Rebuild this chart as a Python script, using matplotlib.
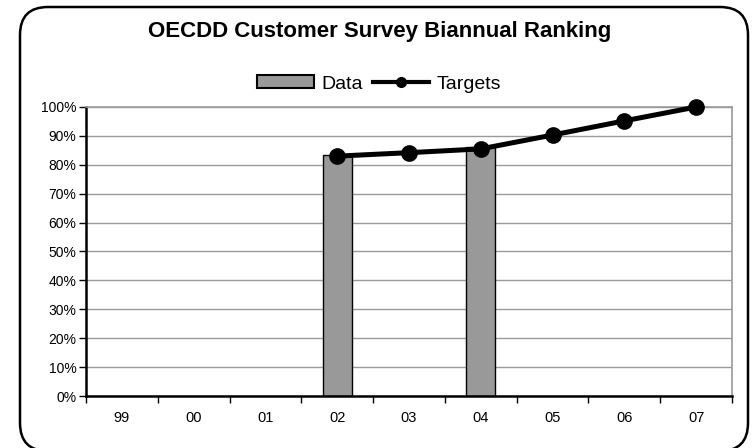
import numpy as np
import matplotlib
matplotlib.use('Agg')
import matplotlib.pyplot as plt
from matplotlib.patches import FancyBboxPatch, Patch
from matplotlib.lines import Line2D
from matplotlib.transforms import IdentityTransform

plt.rcParams['font.family'] = ['Liberation Sans', 'DejaVu Sans']

# data
years = ['99', '00', '01', '02', '03', '04', '05', '06', '07']
data = [np.nan, np.nan, np.nan, 0.835, np.nan, 0.863, np.nan, np.nan, np.nan]
targets = [np.nan, np.nan, np.nan, 0.830, 0.842, 0.855, 0.903, 0.952, 1.00]
yticks = np.arange(0, 1.01, 0.1)

fig = plt.figure(figsize=(7.53, 4.48), dpi=100)
ax = fig.add_axes([86/753, 1-396/448, (732-86)/753, (396-107)/448])

x = np.arange(len(years))
ax.bar(x, data, width=0.41, color='#999999', edgecolor='black', linewidth=1, zorder=2)
ax.plot(x, targets, color='black', lw=3.6, marker='o', ms=11, zorder=3, clip_on=False)

ax.set_xlim(-0.5, len(years) - 0.5)
ax.set_ylim(0, 1)
ax.set_yticks(yticks)
ax.set_yticklabels(['%d%%' % round(v * 100) for v in yticks], fontsize=10)
ax.yaxis.grid(True, color='#999999', lw=1, zorder=0)
ax.set_axisbelow(True)

ax.set_xticks(np.arange(-0.5, len(years)), [])
ax.set_xticks(x, years, minor=True, fontsize=10.5)
ax.tick_params(axis='x', which='major', length=5, width=1, color='black', direction='out')
ax.tick_params(axis='x', which='minor', length=0, pad=11)
ax.tick_params(axis='y', length=5, width=1, color='black', direction='out', pad=2)

for s in ['top', 'right']:
    ax.spines[s].set_color('#999999')
    ax.spines[s].set_linewidth(1.2)
for s in ['left', 'bottom']:
    ax.spines[s].set_color('black')
    ax.spines[s].set_linewidth(1.8)

fig.text(0.504, 1-32/448, 'OECDD Customer Survey Biannual Ranking', ha='center', va='center',
         fontsize=16, fontweight='bold')

handles = [Patch(facecolor='#999999', edgecolor='black', linewidth=1.5),
           Line2D([], [], color='black', lw=3, marker='o', ms=7)]
fig.legend(handles, ['Data', 'Targets'], loc='center', bbox_to_anchor=(0.504, 1-84/448),
           ncol=2, frameon=False, fontsize=14, handlelength=2.9, handleheight=0.6,
           handletextpad=0.4, columnspacing=0.5)

border = FancyBboxPatch((20, -3), 728, 444, boxstyle='round,pad=0,rounding_size=28',
                        transform=IdentityTransform(), facecolor='none', edgecolor='black',
                        linewidth=1.8)
fig.add_artist(border)

fig.savefig('out.png', dpi=100)
